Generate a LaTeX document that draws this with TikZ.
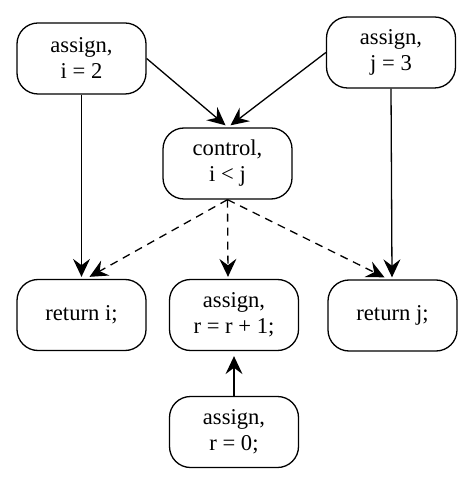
\documentclass[tikz,border=0pt]{standalone}
\usepackage{fontspec}
\setmainfont{Liberation Serif}
\usetikzlibrary{arrows.meta}
\begin{document}
\begin{tikzpicture}[x=0.5pt,y=-0.5pt,
  box/.style={draw, rounded corners=10.5pt, minimum width=64.5pt, minimum height=35.5pt,
    align=center, font=\fontsize{11.3}{13}\selectfont, line width=0.65pt, inner sep=0pt},
  arr/.style={-{Stealth[length=9pt,width=8.5pt,inset=3.2pt]}, line width=0.65pt},
  dsh/.style={arr, dash pattern=on 4pt off 3pt}]
\useasboundingbox (0,0) rectangle (474,485);
\node[box] (a)  at (81.5,58.5)  {assign,\\i = 2};
\node[box] (b)  at (391,52.5)   {assign,\\j = 3};
\node[box] (c)  at (227.5,163.5) {control,\\i < j};
\node[box] (ri) at (81.5,315)   {return i;};
\node[box] (rr) at (234,315)    {assign,\\r = r + 1;};
\node[box] (rj) at (392.5,315.5) {return j;};
\node[box] (r0) at (234,432)    {assign,\\r = 0;};
\draw[arr] (a.east) -- ([xshift=-1pt,yshift=1pt]c.north);
\draw[arr] (b.west) -- ([xshift=1.5pt,yshift=1pt]c.north);
\draw[arr] (a.south) -- ([yshift=1pt]ri.north);
\draw[arr] (b.south) -- ([xshift=-0.25pt,yshift=1pt]rj.north);
\draw[dsh] (c.south) -- ([xshift=4pt,yshift=1pt]ri.north);
\draw[dsh] (c.south) -- ([xshift=-3pt,yshift=1pt]rr.north);
\draw[dsh] (c.south) -- ([xshift=-4pt,yshift=1pt]rj.north);
\draw[arr, shorten >=2.5pt] (r0.north) -- (rr.south);
\end{tikzpicture}
\end{document}
